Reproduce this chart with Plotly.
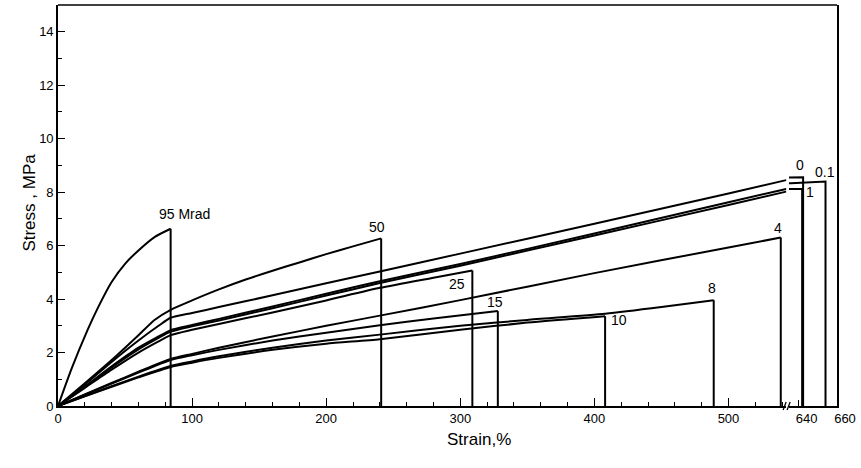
import plotly.graph_objects as go

# ---- data (strain %, stress MPa); last point drops to zero at break ----
s_95 = [0, 10, 22, 30, 40, 50, 60, 72, 84, 84]
t_95 = [0, 1.38, 2.84, 3.7, 4.64, 5.32, 5.82, 6.32, 6.63, 0]

s_50 = [0, 20, 40, 60, 72, 84, 100, 120, 140, 160, 180, 200, 220, 241, 241]
t_50 = [0, 0.85, 1.72, 2.65, 3.22, 3.6, 3.95, 4.36, 4.73, 5.06, 5.37, 5.68, 5.97, 6.27, 0]

s_0 = [0, 20, 40, 60, 75, 84, 100, 120, 160, 200, 240, 300, 400, 500, 543, 636, 642.3, 642.3]
t_0 = [0, 0.8, 1.65, 2.45, 3.0, 3.3, 3.48, 3.7, 4.14, 4.59, 5.03, 5.7, 6.82, 7.95, 8.45, 8.55, 8.56, 0]

s_01 = [0, 20, 40, 60, 75, 84, 100, 120, 160, 200, 240, 300, 400, 500, 543, 636, 654, 654]
t_01 = [0, 0.72, 1.48, 2.18, 2.6, 2.84, 3.03, 3.26, 3.72, 4.2, 4.67, 5.31, 6.45, 7.62, 8.12, 8.33, 8.4, 0]

s_1 = [0, 20, 40, 60, 75, 84, 100, 120, 160, 200, 240, 300, 400, 500, 543, 636, 641.8, 641.8]
t_1 = [0, 0.7, 1.44, 2.12, 2.55, 2.78, 2.98, 3.2, 3.66, 4.13, 4.6, 5.25, 6.38, 7.52, 8.02, 8.1, 8.12, 0]

s_25 = [0, 20, 40, 60, 75, 84, 100, 120, 160, 200, 240, 280, 309, 309]
t_25 = [0, 0.68, 1.36, 2.0, 2.42, 2.65, 2.85, 3.07, 3.5, 3.95, 4.42, 4.8, 5.07, 0]

s_4 = [0, 20, 40, 60, 84, 100, 120, 160, 200, 240, 300, 400, 500, 539, 539]
t_4 = [0, 0.43, 0.86, 1.28, 1.76, 1.95, 2.18, 2.6, 3.0, 3.38, 3.96, 4.97, 5.93, 6.3, 0]

s_15 = [0, 20, 40, 60, 84, 100, 120, 160, 200, 240, 280, 328, 328]
t_15 = [0, 0.42, 0.84, 1.25, 1.72, 1.9, 2.1, 2.45, 2.74, 3.02, 3.27, 3.55, 0]

s_8 = [0, 20, 40, 60, 84, 100, 120, 160, 200, 240, 300, 350, 408, 450, 489, 489]
t_8 = [0, 0.37, 0.74, 1.1, 1.5, 1.67, 1.86, 2.18, 2.45, 2.67, 3.0, 3.22, 3.45, 3.7, 3.96, 0]

s_10 = [0, 20, 40, 60, 84, 100, 120, 160, 200, 240, 300, 350, 408, 408]
t_10 = [0, 0.36, 0.72, 1.07, 1.46, 1.62, 1.8, 2.1, 2.33, 2.5, 2.85, 3.12, 3.36, 0]

# label text and anchor (strain, stress, axis)
labels = ["95 Mrad", "50", "25", "15", "10", "8", "4", "0", "0.1", "1"]
label_x = [94.5, 238, 297.6, 326, 418, 488, 537, 640.6, 653.6, 646]
label_y = [7.2, 6.7, 4.55, 3.88, 3.2, 4.42, 6.64, 9.02, 8.75, 8.0]
label_ax = ["x", "x", "x", "x", "x", "x", "x", "x2", "x2", "x2"]

x_ticks_main = [0, 100, 200, 300, 400, 500]
x_ticks_tail = [640, 660]
y_ticks = [0, 2, 4, 6, 8, 10, 12, 14]

BREAK = 543
FONT = "Liberation Sans"
LW = 2.0

series_main = [(s_95, t_95), (s_50, t_50), (s_0, t_0), (s_01, t_01), (s_1, t_1),
               (s_25, t_25), (s_4, t_4), (s_15, t_15), (s_8, t_8), (s_10, t_10)]
series_tail = [(s_0, t_0), (s_01, t_01), (s_1, t_1)]

fig = go.Figure()

def add_series(s, t, xa, ya):
    # smooth curve up to fracture point / axis break, then straight segments
    k = max(i for i in range(len(s) - 1) if s[i] <= BREAK)
    fig.add_trace(go.Scatter(x=s[:k + 1], y=t[:k + 1], mode="lines", xaxis=xa, yaxis=ya,
                             line=dict(color="black", width=LW, shape="spline", smoothing=0.6),
                             showlegend=False, hoverinfo="skip"))
    fig.add_trace(go.Scatter(x=s[k:], y=t[k:], mode="lines", xaxis=xa, yaxis=ya,
                             line=dict(color="black", width=LW),
                             showlegend=False, hoverinfo="skip"))

for s, t in series_main:
    add_series(s, t, "x", "y")
for s, t in series_tail:
    add_series(s, t, "x2", "y2")

W, H = 861, 468
L, R, T, B = 58, 22, 5, 62
pw = W - L - R
ph = H - T - B
def px(xp):
    return (xp - L) / pw
def py(yp):
    return (H - B - yp) / ph

d1_end = px(788)
d2_start = px(791)

axis_common = dict(showline=True, linecolor="black", linewidth=1.6, showgrid=False,
                   zeroline=False, ticks="inside", tickcolor="black", tickwidth=1.4,
                   tickfont=dict(family=FONT, size=13, color="black"))

fig.update_layout(
    width=W, height=H,
    margin=dict(l=L, r=R, t=T, b=B, pad=0),
    paper_bgcolor="white", plot_bgcolor="white",
    xaxis=dict(domain=[0, d1_end], range=[0, BREAK], anchor="y",
               tickvals=x_ticks_main, ticklen=8,
               minor=dict(dtick=20, tick0=0, ticks="inside", ticklen=4,
                          tickcolor="black", tickwidth=1.3),
               **axis_common),
    xaxis2=dict(domain=[d2_start, 1], range=[635, 660], anchor="y2",
                tickvals=x_ticks_tail, ticklen=6, ticklabelshift=8,
                **axis_common),
    yaxis=dict(range=[0, 15], anchor="x", tickvals=y_ticks, ticklen=7,
               minor=dict(dtick=1, tick0=0, ticks="inside", ticklen=4,
                          tickcolor="black", tickwidth=1.3),
               **axis_common),
    yaxis2=dict(range=[0, 15], anchor="x2", side="right", showline=True,
                linecolor="black", linewidth=1.6, showgrid=False, zeroline=False,
                showticklabels=False, ticks=""),
)

# frame top
fig.add_shape(type="line", xref="paper", yref="paper", x0=0, x1=1, y0=1, y1=1,
              line=dict(color="black", width=1.6))
# axis break marks
for x0 in (785, 789):
    fig.add_shape(type="line", xref="paper", yref="paper",
                  x0=px(x0), x1=px(x0 + 3), y0=py(410), y1=py(402),
                  line=dict(color="black", width=1.3))

for txt, lx, ly, ax in zip(labels, label_x, label_y, label_ax):
    fig.add_annotation(x=lx, y=ly, xref=ax, yref="y", text=txt, showarrow=False,
                       font=dict(family=FONT, size=14, color="black"))

fig.add_annotation(x=px(480), y=py(451), xref="paper", yref="paper",
                   text="Strain,%", showarrow=False,
                   font=dict(family=FONT, size=17, color="black"))
fig.add_annotation(x=px(17), y=py(203), xref="paper", yref="paper",
                   text="Stress , MPa", showarrow=False, textangle=-90,
                   font=dict(family=FONT, size=17, color="black"))

fig.write_html("out.html", config={"displayModeBar": False},
               post_script="document.body.style.margin='0px';document.body.style.padding='0px';")
